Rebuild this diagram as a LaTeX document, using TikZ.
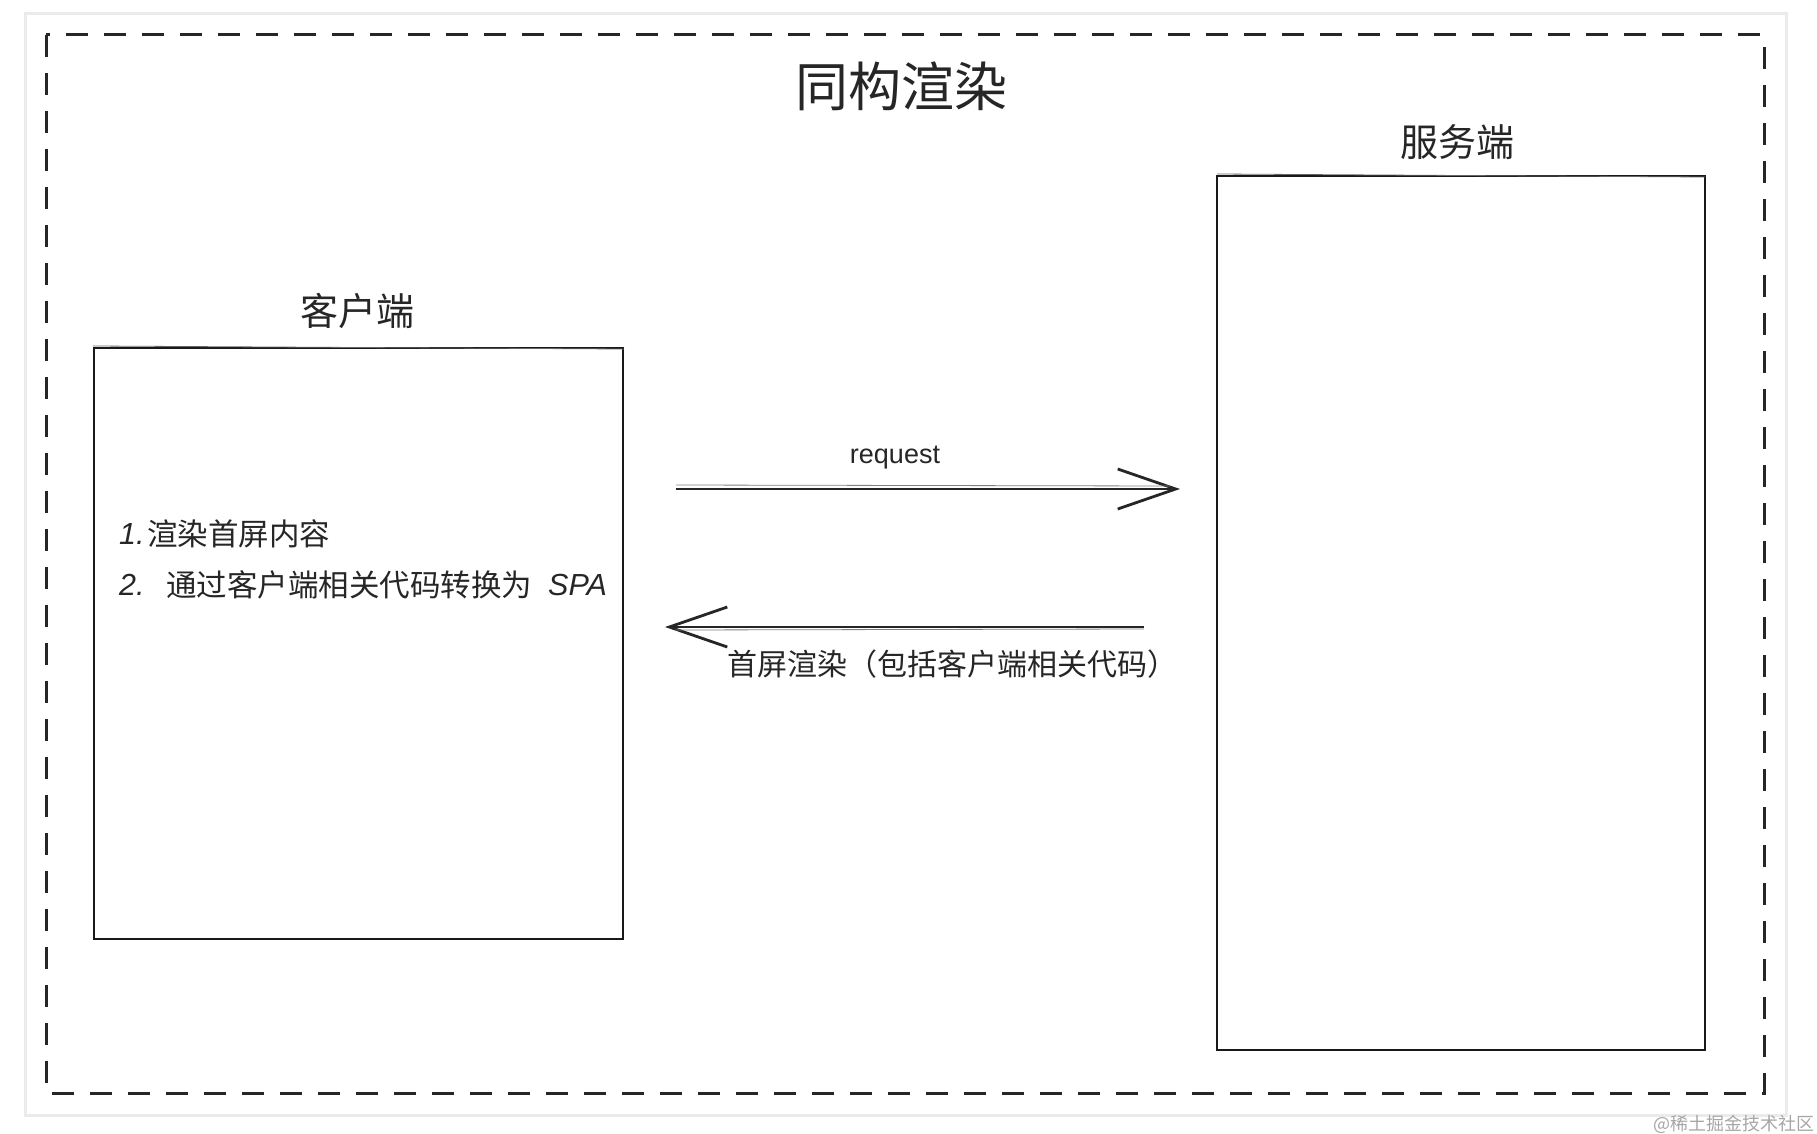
\documentclass[tikz,border=0pt]{standalone}
\usepackage{fontspec}
\setmainfont{Noto Sans CJK SC}
\newfontfamily\latinhand{Liberation Sans}
\usetikzlibrary{arrows.meta}
\tikzset{
  frame/.style={draw=black!8, line width=3pt},
  groupborder/.style={draw=black!85, line width=3pt, dash pattern=on 22pt off 16pt},
  sketchbox/.style={draw=black!90, line width=2.8pt},
  label/.style={text=black!85, inner sep=0pt},
  listtext/.style={label, anchor=west, font=\fontsize{30.5}{34}\selectfont},
  flow/.style={draw=black!85, line width=2.2pt, -{Straight Barb[length=58pt,width=40pt,line width=2.8pt]}},
}
\begin{document}
\begin{tikzpicture}[x=1pt,y=-1pt]
\useasboundingbox (0,0) rectangle (1817,1134);
\draw[frame] (25,14) rectangle (1786,1115);
\draw[groupborder] (46,35) rectangle (1764,1093);

\node[label, font=\fontsize{53}{60}\selectfont] (title) at (901,86) {同构渲染};

% server
\node[label, font=\fontsize{38}{44}\selectfont] (serverlbl) at (1457,142) {服务端};
\draw[sketchbox] (1217,176) rectangle (1705,1050);
\node[inner sep=0pt, minimum width=488pt, minimum height=874pt] (server) at (1461,613) {};
\draw[black!60, line width=0.8pt] (1217,174) -- (1705,177);

% client
\node[label, font=\fontsize{38}{44}\selectfont] (clientlbl) at (357,311) {客户端};
\draw[sketchbox] (94,348) rectangle (623,939);
\node[inner sep=0pt, minimum width=529pt, minimum height=591pt] (client) at (358.5,643.5) {};
\draw[black!60, line width=0.8pt] (93,346) -- (624,349);

\node[listtext] (num1) at (119,534) {{\latinhand\itshape 1.}};
\node[listtext] (step1) at (147,534) {渲染首屏内容};
\node[listtext] (num2) at (119,585) {{\latinhand\itshape 2.}};
\node[listtext] (step2) at (166,585) {通过客户端相关代码转换为};
\node[listtext] (spa) at (548,585) {{\latinhand\itshape SPA}};

% arrows
\coordinate (reqA) at (676,489);
\coordinate (reqB) at (1180,489);
\coordinate (resA) at (1144,627);
\coordinate (resB) at (665,627);
\draw[flow] (reqA) -- (reqB);
\draw[black!50, line width=0.8pt] ([yshift=4pt]reqA) -- ([yshift=3pt,xshift=-10pt]reqB);
\draw[flow] (resA) -- (resB);
\draw[black!50, line width=0.8pt] ([yshift=-2pt]resA) -- ([yshift=-3pt,xshift=10pt]resB);

\node[label, font=\latinhand\fontsize{27}{32}\selectfont] (reqlbl) at (895,458) {request};
\node[label, font=\fontsize{30}{34}\selectfont, anchor=west] (reslbl) at (727,664) {首屏渲染（包括客户端相关代码）};

\node[text=black!35, inner sep=0pt, anchor=east, font=\fontsize{18}{20}\selectfont] (wm) at (1815,1124) {@稀土掘金技术社区};
\end{tikzpicture}
\end{document}
